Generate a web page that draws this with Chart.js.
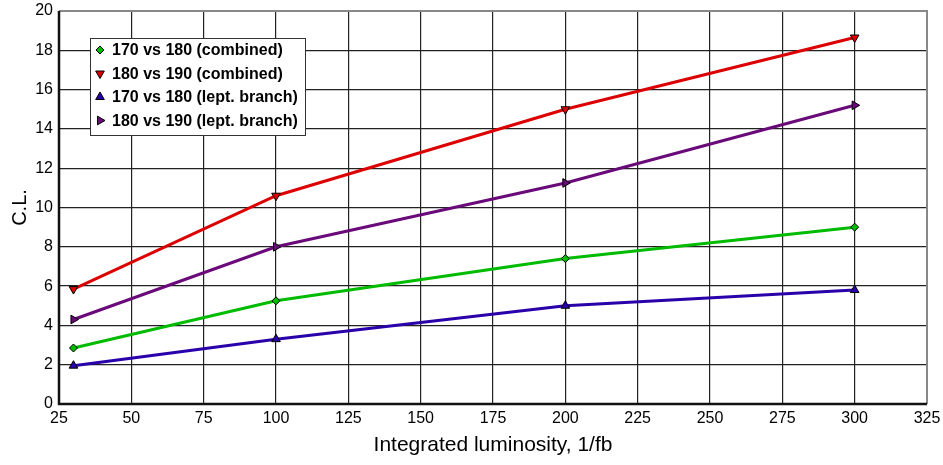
<!DOCTYPE html>
<html><head><meta charset="utf-8">
<script src="https://cdn.jsdelivr.net/npm/chart.js@4/dist/chart.umd.min.js"></script>
<style>html,body{margin:0;padding:0;background:#fff}#wrap{width:943px;height:465px}</style>
</head><body><div id="wrap"><canvas id="c" width="943" height="465"></canvas></div>
<script>
const luminosity = [30, 100, 200, 300];
const combined170vs180 = [2.85, 5.25, 7.4, 9.0];
const combined180vs190 = [5.85, 10.6, 15.0, 18.65];
const lept170vs180 = [1.95, 3.3, 5.0, 5.8];
const lept180vs190 = [4.3, 8.0, 11.25, 15.2];
const seriesLabels = ['170 vs 180 (combined)', '180 vs 190 (combined)', '170 vs 180 (lept. branch)', '180 vs 190 (lept. branch)'];

const pts = arr => arr.map((v, i) => ({x: luminosity[i], y: v}));
const mk = (label, data, color, style, rot, r) => ({
  label, data: pts(data), borderColor: color, backgroundColor: color, borderWidth: 3,
  pointStyle: style, rotation: rot, pointRadius: r, pointBorderColor: '#000', pointBorderWidth: 1,
  pointBackgroundColor: color, tension: 0, fill: false
});

const FONT = '"Liberation Sans", Arial, sans-serif';

const legendPlugin = {
  id: 'boxLegend',
  afterDatasetsDraw(chart) {
    const ctx = chart.ctx; const a = chart.chartArea;
    ctx.save();
    ctx.strokeStyle = '#888'; ctx.lineWidth = 2;
    ctx.beginPath(); ctx.moveTo(a.left, a.top); ctx.lineTo(a.right, a.top); ctx.lineTo(a.right, a.bottom); ctx.stroke();
    ctx.strokeStyle = '#111'; ctx.lineWidth = 2.5;
    ctx.beginPath(); ctx.moveTo(a.left, a.top); ctx.lineTo(a.left, a.bottom); ctx.lineTo(a.right, a.bottom); ctx.stroke();
    const bx = 90, by = 38, bw = 215, bh = 97;
    ctx.fillStyle = '#fff'; ctx.fillRect(bx, by, bw, bh);
    ctx.strokeStyle = '#333'; ctx.lineWidth = 1; ctx.strokeRect(bx + 0.5, by + 0.5, bw, bh);
    ctx.font = 'bold 16px ' + FONT;
    ctx.textBaseline = 'middle'; ctx.textAlign = 'left';
    chart.data.datasets.forEach((ds, i) => {
      const y = by + 12 + i * 23.5;
      ctx.fillStyle = ds.pointBackgroundColor; ctx.strokeStyle = '#000'; ctx.lineWidth = 1;
      Chart.helpers.drawPoint(ctx, {pointStyle: ds.pointStyle, rotation: ds.rotation, radius: ds.pointRadius, borderWidth: 1}, 100, y);
      ctx.fillStyle = '#000';
      ctx.fillText(ds.label, 112, y + 1);
    });
    ctx.restore();
  }
};

new Chart(document.getElementById('c'), {
  type: 'line',
  data: { datasets: [
    mk(seriesLabels[0], combined170vs180, '#00bb00', 'rectRot', 0, 4),
    mk(seriesLabels[1], combined180vs190, '#dd0000', 'triangle', 180, 5),
    mk(seriesLabels[2], lept170vs180, '#2a00aa', 'triangle', 0, 5),
    mk(seriesLabels[3], lept180vs190, '#6a0a7a', 'triangle', 90, 5)
  ]},
  options: {
    responsive: false, animation: false, devicePixelRatio: 1,
    layout: { padding: { top: 11, right: 16, left: 0, bottom: 0 } },
    plugins: { legend: { display: false }, tooltip: { enabled: false } },
    scales: {
      x: { type: 'linear', min: 25, max: 325,
        ticks: { stepSize: 25, color: '#000', font: { size: 16, family: FONT }, padding: 5 },
        grid: { color: '#222', lineWidth: 1.2, drawTicks: false },
        border: { display: false },
        title: { display: true, text: 'Integrated luminosity, 1/fb', color: '#000', font: { size: 21, family: FONT }, padding: { top: 8, bottom: 7 } },
        afterFit: s => { s.height = 61; s.paddingLeft = 0; s.paddingRight = 0; }
      },
      y: { min: 0, max: 20,
        ticks: { stepSize: 2, color: '#000', font: { size: 16, family: FONT }, padding: 6 },
        grid: { color: '#222', lineWidth: 1.2, drawTicks: false },
        border: { display: false },
        title: { display: true, text: 'C.L.', color: '#000', font: { size: 20, family: FONT }, padding: { top: 8, bottom: 0 } },
        afterFit: s => { s.width = 59; s.paddingTop = 0; s.paddingBottom = 0; }
      }
    }
  },
  plugins: [legendPlugin]
});
</script></body></html>
